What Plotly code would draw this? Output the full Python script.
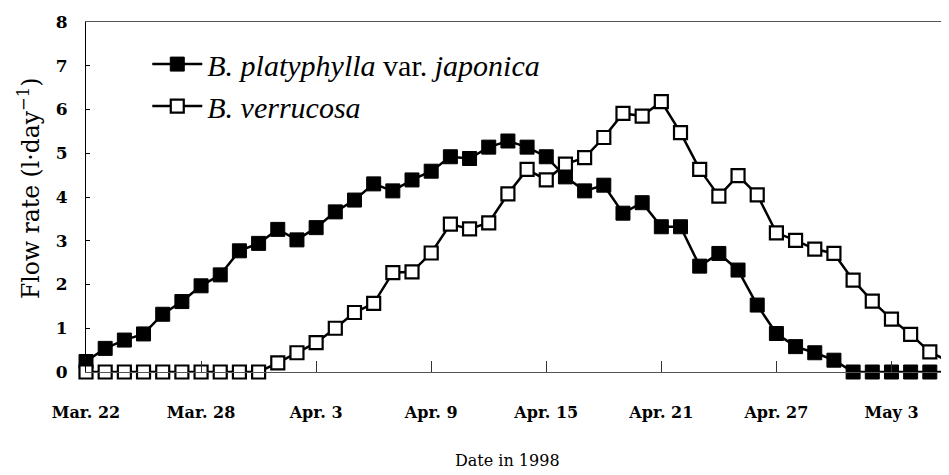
import pandas as pd
import plotly.graph_objects as go

# one reading per day, Mar 22 - May 6 1998
dates = pd.date_range('1998-03-22', '1998-05-06', freq='D')

# B. platyphylla var. japonica (filled squares)
platyphylla = [0.24, 0.54, 0.73, 0.87, 1.32, 1.61, 1.97, 2.22, 2.77, 2.94,
               3.26, 3.02, 3.30, 3.66, 3.93, 4.30, 4.14, 4.39, 4.59, 4.92,
               4.88, 5.14, 5.28, 5.14, 4.92, 4.46, 4.14, 4.27, 3.63, 3.87,
               3.32, 3.32, 2.42, 2.71, 2.33, 1.53, 0.88, 0.58, 0.44, 0.27,
               0, 0, 0, 0, 0, 0]

# B. verrucosa (open squares)
verrucosa = [0, 0, 0, 0, 0, 0, 0, 0, 0, 0,
             0.21, 0.44, 0.67, 1.00, 1.36, 1.57, 2.27, 2.29, 2.72, 3.38,
             3.27, 3.41, 4.07, 4.63, 4.39, 4.75, 4.90, 5.36, 5.91, 5.85,
             6.18, 5.47, 4.63, 4.02, 4.49, 4.05, 3.18, 3.01, 2.81, 2.71,
             2.10, 1.62, 1.21, 0.86, 0.46, 0.24]

tick_dates = ['1998-03-22', '1998-03-28', '1998-04-03', '1998-04-09',
              '1998-04-15', '1998-04-21', '1998-04-27', '1998-05-03']
tick_text = ['Mar. 22', 'Mar. 28', 'Apr. 3', 'Apr. 9',
             'Apr. 15', 'Apr. 21', 'Apr. 27', 'May 3']

serif = 'DejaVu Serif'

fig = go.Figure()
fig.add_trace(go.Scatter(
    x=dates, y=platyphylla, mode='lines+markers', cliponaxis=False,
    name='<i>B. platyphylla</i> var. <i>japonica</i>',
    line=dict(color='black', width=2.5),
    marker=dict(symbol='square', size=14, color='black',
                line=dict(color='black', width=1))))
fig.add_trace(go.Scatter(
    x=dates, y=verrucosa, mode='lines+markers', cliponaxis=False,
    name='<i>B. verrucosa</i>',
    line=dict(color='black', width=2.5),
    marker=dict(symbol='square', size=13, color='white',
                line=dict(color='black', width=2.2))))

fig.update_xaxes(
    range=['1998-03-22', '1998-05-06'], automargin=False,
    tickvals=tick_dates, ticktext=tick_text,
    ticks='inside', ticklen=11, tickcolor='#333', tickwidth=1,
    showline=True, linecolor='#555', linewidth=1, mirror=True,
    showgrid=False, zeroline=False, ticklabelstandoff=26,
    tickfont=dict(family=serif, size=16, color='black', weight='bold'))
fig.update_yaxes(
    range=[0, 8], dtick=1, automargin=False,
    ticks='inside', ticklen=4, tickcolor='black',
    showline=True, linecolor='black', linewidth=1,
    showgrid=False, zeroline=False, ticklabelstandoff=14,
    tickfont=dict(family=serif, size=17, color='black', weight='bold'))

# axis titles
fig.add_annotation(text='Date in 1998', xref='paper', yref='paper',
                   x=0.488, y=-0.254, yanchor='middle', showarrow=False,
                   font=dict(family=serif, size=16, color='black'))
fig.add_annotation(text='Flow rate (l·day<sup>−1</sup>)', xref='paper', yref='paper',
                   x=-0.085, y=0.526, textangle=-90, showarrow=False,
                   font=dict(family=serif, size=23.5, color='black'))

# page has an 8px body margin, so the figure is shifted by 8px
fig.update_layout(
    width=941, height=467,
    margin=dict(l=78, r=0, t=14, b=103),
    plot_bgcolor='white', paper_bgcolor='white',
    showlegend=True,
    legend=dict(x=0.071, y=0.954, xanchor='left', yanchor='top',
                bgcolor='rgba(0,0,0,0)',
                font=dict(family='Liberation Serif', size=30, color='black'),
                itemwidth=50))

fig.write_html("out.html")
